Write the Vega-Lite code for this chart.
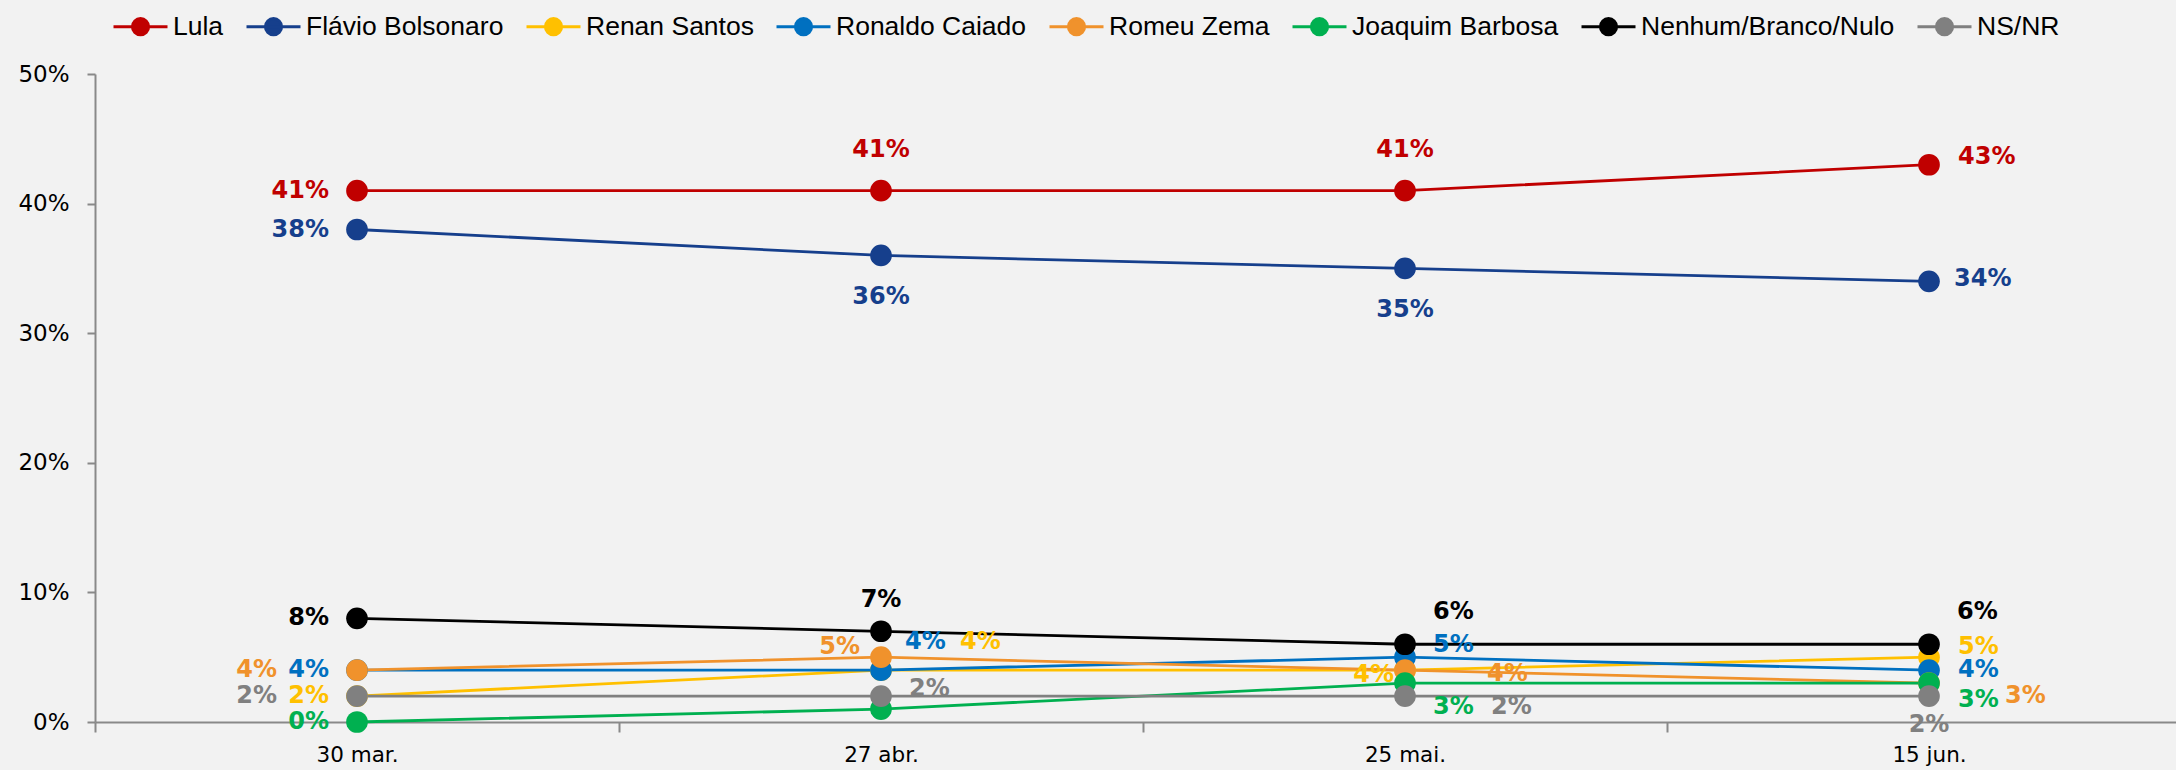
{
  "$schema": "https://vega.github.io/schema/vega-lite/v6.json",
  "width": 2096,
  "height": 648,
  "autosize": {"type": "none"},
  "padding": {"left": 95, "top": 74, "right": 0, "bottom": 48},
  "background": "#f2f2f2",
  "config": {"view": {"stroke": null}},
  "data": {"values": [
    {"s": "Lula", "d": "30 mar.", "v": 0.41},
    {"s": "Lula", "d": "27 abr.", "v": 0.41},
    {"s": "Lula", "d": "25 mai.", "v": 0.41},
    {"s": "Lula", "d": "15 jun.", "v": 0.43},
    {"s": "Flávio Bolsonaro", "d": "30 mar.", "v": 0.38},
    {"s": "Flávio Bolsonaro", "d": "27 abr.", "v": 0.36},
    {"s": "Flávio Bolsonaro", "d": "25 mai.", "v": 0.35},
    {"s": "Flávio Bolsonaro", "d": "15 jun.", "v": 0.34},
    {"s": "Renan Santos", "d": "30 mar.", "v": 0.02},
    {"s": "Renan Santos", "d": "27 abr.", "v": 0.04},
    {"s": "Renan Santos", "d": "25 mai.", "v": 0.04},
    {"s": "Renan Santos", "d": "15 jun.", "v": 0.05},
    {"s": "Ronaldo Caiado", "d": "30 mar.", "v": 0.04},
    {"s": "Ronaldo Caiado", "d": "27 abr.", "v": 0.04},
    {"s": "Ronaldo Caiado", "d": "25 mai.", "v": 0.05},
    {"s": "Ronaldo Caiado", "d": "15 jun.", "v": 0.04},
    {"s": "Romeu Zema", "d": "30 mar.", "v": 0.04},
    {"s": "Romeu Zema", "d": "27 abr.", "v": 0.05},
    {"s": "Romeu Zema", "d": "25 mai.", "v": 0.04},
    {"s": "Romeu Zema", "d": "15 jun.", "v": 0.03},
    {"s": "Joaquim Barbosa", "d": "30 mar.", "v": 0.0},
    {"s": "Joaquim Barbosa", "d": "27 abr.", "v": 0.01},
    {"s": "Joaquim Barbosa", "d": "25 mai.", "v": 0.03},
    {"s": "Joaquim Barbosa", "d": "15 jun.", "v": 0.03},
    {"s": "Nenhum/Branco/Nulo", "d": "30 mar.", "v": 0.08},
    {"s": "Nenhum/Branco/Nulo", "d": "27 abr.", "v": 0.07},
    {"s": "Nenhum/Branco/Nulo", "d": "25 mai.", "v": 0.06},
    {"s": "Nenhum/Branco/Nulo", "d": "15 jun.", "v": 0.06},
    {"s": "NS/NR", "d": "30 mar.", "v": 0.02},
    {"s": "NS/NR", "d": "27 abr.", "v": 0.02},
    {"s": "NS/NR", "d": "25 mai.", "v": 0.02},
    {"s": "NS/NR", "d": "15 jun.", "v": 0.02}
  ]},
  "encoding": {
    "x": {
      "field": "d", "type": "ordinal",
      "sort": ["30 mar.", "27 abr.", "25 mai.", "15 jun."],
      "bandPosition": 0.5,
      "scale": {"type": "band", "paddingInner": 0, "paddingOuter": 0},
      "axis": {
        "title": null, "labelAngle": 0, "tickBand": "extent", "tickSize": 10,
        "labelPadding": 12, "labelFont": "DejaVu Sans", "labelFontSize": 21.5,
        "labelColor": "#000000", "domainColor": "#898989", "tickColor": "#898989",
        "domainWidth": 2, "tickWidth": 2, "grid": false
      }
    },
    "y": {
      "field": "v", "type": "quantitative",
      "scale": {"domain": [0, 0.5]},
      "axis": {
        "title": null, "format": ".0%", "values": [0, 0.1, 0.2, 0.3, 0.4, 0.5],
        "grid": false, "tickSize": 8, "labelPadding": 18,
        "labelFont": "DejaVu Sans", "labelFontSize": 23, "labelColor": "#000000",
        "domainColor": "#898989", "tickColor": "#898989", "domainWidth": 2, "tickWidth": 2
      }
    },
    "color": {
      "field": "s", "type": "nominal",
      "sort": ["Lula", "Flávio Bolsonaro", "Renan Santos", "Ronaldo Caiado", "Romeu Zema", "Joaquim Barbosa", "Nenhum/Branco/Nulo", "NS/NR"],
      "scale": {
        "domain": ["Lula", "Flávio Bolsonaro", "Renan Santos", "Ronaldo Caiado", "Romeu Zema", "Joaquim Barbosa", "Nenhum/Branco/Nulo", "NS/NR"],
        "range": ["#c00000", "#163f8c", "#ffc000", "#0070c0", "#f0922c", "#00b050", "#000000", "#808080"]
      },
      "legend": {
        "title": null, "orient": "none", "legendX": 17, "legendY": -76,
        "direction": "horizontal", "columns": 8, "padding": 0,
        "symbolType": "M-1,0L1,0M-0.3,0A0.3,0.3,0,1,0,0.3,0A0.3,0.3,0,1,0,-0.3,0Z",
        "symbolSize": 2916, "symbolStrokeWidth": 3,
        "labelFont": "Liberation Sans", "labelFontSize": 26.5, "labelColor": "#000000",
        "labelOffset": 4, "columnPadding": 16, "labelLimit": 400,
        "encode": {"symbols": {"update": {
          "fill": {"scale": "color", "field": "value"},
          "stroke": {"scale": "color", "field": "value"},
          "opacity": {"value": 1}
        }}}
      }
    }
  },
  "layer": [
    {"mark": {"type": "line", "strokeWidth": 2.8}},
    {"mark": {"type": "point", "filled": true, "opacity": 1, "size": 470}},
    {"transform": [{"filter": "datum.d=='30 mar.' && datum.s!='Romeu Zema' && datum.s!='NS/NR'"}],
     "mark": {"type": "text", "font": "DejaVu Sans", "fontWeight": "bold", "fontSize": 24, "baseline": "middle", "align": "right", "dx": -28, "dy": 0},
     "encoding": {"text": {"field": "v", "format": ".0%"}}},
    {"transform": [{"filter": "datum.d=='30 mar.' && (datum.s=='Romeu Zema' || datum.s=='NS/NR')"}],
     "mark": {"type": "text", "font": "DejaVu Sans", "fontWeight": "bold", "fontSize": 24, "baseline": "middle", "align": "right", "dx": -80, "dy": 0},
     "encoding": {"text": {"field": "v", "format": ".0%"}}},
    {"transform": [{"filter": "datum.s=='Lula' && (datum.d=='27 abr.' || datum.d=='25 mai.')"}],
     "mark": {"type": "text", "font": "DejaVu Sans", "fontWeight": "bold", "fontSize": 24, "baseline": "middle", "align": "center", "dx": 0, "dy": -41},
     "encoding": {"text": {"field": "v", "format": ".0%"}}},
    {"transform": [{"filter": "datum.s=='Flávio Bolsonaro' && (datum.d=='27 abr.' || datum.d=='25 mai.')"}],
     "mark": {"type": "text", "font": "DejaVu Sans", "fontWeight": "bold", "fontSize": 24, "baseline": "middle", "align": "center", "dx": 0, "dy": 42},
     "encoding": {"text": {"field": "v", "format": ".0%"}}},
    {"transform": [{"filter": "datum.s=='Nenhum/Branco/Nulo' && datum.d=='27 abr.'"}],
     "mark": {"type": "text", "font": "DejaVu Sans", "fontWeight": "bold", "fontSize": 24, "baseline": "middle", "align": "center", "dx": 0, "dy": -31},
     "encoding": {"text": {"field": "v", "format": ".0%"}}},
    {"transform": [{"filter": "datum.s=='Romeu Zema' && datum.d=='27 abr.'"}],
     "mark": {"type": "text", "font": "DejaVu Sans", "fontWeight": "bold", "fontSize": 24, "baseline": "middle", "align": "right", "dx": -21, "dy": -10},
     "encoding": {"text": {"field": "v", "format": ".0%"}}},
    {"transform": [{"filter": "datum.s=='Ronaldo Caiado' && datum.d=='27 abr.'"}],
     "mark": {"type": "text", "font": "DejaVu Sans", "fontWeight": "bold", "fontSize": 24, "baseline": "middle", "align": "left", "dx": 24, "dy": -28},
     "encoding": {"text": {"field": "v", "format": ".0%"}}},
    {"transform": [{"filter": "datum.s=='Renan Santos' && datum.d=='27 abr.'"}],
     "mark": {"type": "text", "font": "DejaVu Sans", "fontWeight": "bold", "fontSize": 24, "baseline": "middle", "align": "left", "dx": 79, "dy": -28},
     "encoding": {"text": {"field": "v", "format": ".0%"}}},
    {"transform": [{"filter": "datum.s=='NS/NR' && datum.d=='27 abr.'"}],
     "mark": {"type": "text", "font": "DejaVu Sans", "fontWeight": "bold", "fontSize": 24, "baseline": "middle", "align": "left", "dx": 28, "dy": -7},
     "encoding": {"text": {"field": "v", "format": ".0%"}}},
    {"transform": [{"filter": "datum.s=='Nenhum/Branco/Nulo' && (datum.d=='25 mai.' || datum.d=='15 jun.')"}],
     "mark": {"type": "text", "font": "DejaVu Sans", "fontWeight": "bold", "fontSize": 24, "baseline": "middle", "align": "left", "dx": 28, "dy": -32},
     "encoding": {"text": {"field": "v", "format": ".0%"}}},
    {"transform": [{"filter": "datum.s=='Ronaldo Caiado' && datum.d=='25 mai.'"}],
     "mark": {"type": "text", "font": "DejaVu Sans", "fontWeight": "bold", "fontSize": 24, "baseline": "middle", "align": "left", "dx": 28, "dy": -12},
     "encoding": {"text": {"field": "v", "format": ".0%"}}},
    {"transform": [{"filter": "datum.s=='Renan Santos' && datum.d=='25 mai.'"}],
     "mark": {"type": "text", "font": "DejaVu Sans", "fontWeight": "bold", "fontSize": 24, "baseline": "middle", "align": "right", "dx": -11, "dy": 5},
     "encoding": {"text": {"field": "v", "format": ".0%"}}},
    {"transform": [{"filter": "datum.s=='Romeu Zema' && datum.d=='25 mai.'"}],
     "mark": {"type": "text", "font": "DejaVu Sans", "fontWeight": "bold", "fontSize": 24, "baseline": "middle", "align": "left", "dx": 82, "dy": 4},
     "encoding": {"text": {"field": "v", "format": ".0%"}}},
    {"transform": [{"filter": "datum.s=='Joaquim Barbosa' && datum.d=='25 mai.'"}],
     "mark": {"type": "text", "font": "DejaVu Sans", "fontWeight": "bold", "fontSize": 24, "baseline": "middle", "align": "left", "dx": 28, "dy": 24},
     "encoding": {"text": {"field": "v", "format": ".0%"}}},
    {"transform": [{"filter": "datum.s=='NS/NR' && datum.d=='25 mai.'"}],
     "mark": {"type": "text", "font": "DejaVu Sans", "fontWeight": "bold", "fontSize": 24, "baseline": "middle", "align": "left", "dx": 86, "dy": 11},
     "encoding": {"text": {"field": "v", "format": ".0%"}}},
    {"transform": [{"filter": "datum.s=='Lula' && datum.d=='15 jun.'"}],
     "mark": {"type": "text", "font": "DejaVu Sans", "fontWeight": "bold", "fontSize": 24, "baseline": "middle", "align": "left", "dx": 29, "dy": -8},
     "encoding": {"text": {"field": "v", "format": ".0%"}}},
    {"transform": [{"filter": "datum.s=='Flávio Bolsonaro' && datum.d=='15 jun.'"}],
     "mark": {"type": "text", "font": "DejaVu Sans", "fontWeight": "bold", "fontSize": 24, "baseline": "middle", "align": "left", "dx": 25, "dy": -2},
     "encoding": {"text": {"field": "v", "format": ".0%"}}},
    {"transform": [{"filter": "datum.s=='Renan Santos' && datum.d=='15 jun.'"}],
     "mark": {"type": "text", "font": "DejaVu Sans", "fontWeight": "bold", "fontSize": 24, "baseline": "middle", "align": "left", "dx": 29, "dy": -10},
     "encoding": {"text": {"field": "v", "format": ".0%"}}},
    {"transform": [{"filter": "datum.s=='Ronaldo Caiado' && datum.d=='15 jun.'"}],
     "mark": {"type": "text", "font": "DejaVu Sans", "fontWeight": "bold", "fontSize": 24, "baseline": "middle", "align": "left", "dx": 29, "dy": 0},
     "encoding": {"text": {"field": "v", "format": ".0%"}}},
    {"transform": [{"filter": "datum.s=='Joaquim Barbosa' && datum.d=='15 jun.'"}],
     "mark": {"type": "text", "font": "DejaVu Sans", "fontWeight": "bold", "fontSize": 24, "baseline": "middle", "align": "left", "dx": 29, "dy": 17},
     "encoding": {"text": {"field": "v", "format": ".0%"}}},
    {"transform": [{"filter": "datum.s=='Romeu Zema' && datum.d=='15 jun.'"}],
     "mark": {"type": "text", "font": "DejaVu Sans", "fontWeight": "bold", "fontSize": 24, "baseline": "middle", "align": "left", "dx": 76, "dy": 13},
     "encoding": {"text": {"field": "v", "format": ".0%"}}},
    {"transform": [{"filter": "datum.s=='NS/NR' && datum.d=='15 jun.'"}],
     "mark": {"type": "text", "font": "DejaVu Sans", "fontWeight": "bold", "fontSize": 24, "baseline": "middle", "align": "center", "dx": 0, "dy": 29},
     "encoding": {"text": {"field": "v", "format": ".0%"}}}
  ]
}
